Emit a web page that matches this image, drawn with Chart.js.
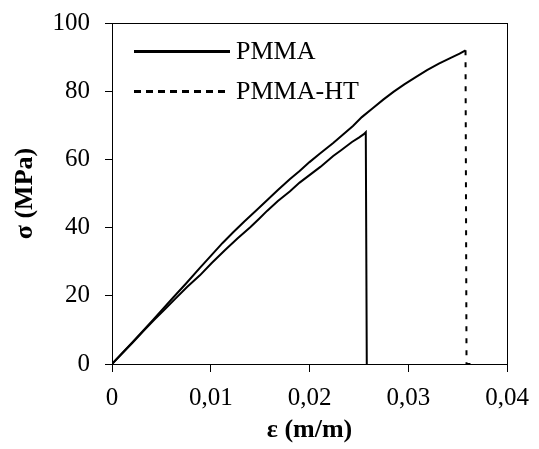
<!DOCTYPE html>
<html>
<head>
<meta charset="utf-8">
<script src="https://cdn.jsdelivr.net/npm/chart.js@4.4.1/dist/chart.umd.min.js"></script>
<style>
  html, body { margin: 0; padding: 0; background: #fff; }
  #wrap { width: 539px; height: 449px; }
</style>
</head>
<body>
<div id="wrap"><canvas id="myChart" width="539" height="449"></canvas></div>
<script>
// curva PMMA (deformazione, tensione)
const pmmaStrain = [0, 0.0010, 0.0021, 0.0032, 0.0043, 0.0054, 0.0064, 0.0076, 0.0089, 0.0101, 0.0114, 0.0127, 0.0140, 0.0149, 0.0157, 0.0168, 0.0180, 0.0190, 0.0200, 0.0211, 0.0224, 0.0232, 0.0243, 0.0250, 0.0255, 0.0257, 0.0258];
const pmmaStress = [0, 3.0, 6.3, 9.7, 13.0, 16.2, 19.1, 22.6, 26.0, 29.6, 33.3, 36.8, 40.1, 42.6, 44.9, 47.8, 50.6, 53.2, 55.4, 57.8, 61.0, 62.7, 65.1, 66.4, 67.4, 68.0, 0];

// curva PMMA-HT
const htStrain = [0, 0.0010, 0.0021, 0.0032, 0.0042, 0.0052, 0.0062, 0.0075, 0.0089, 0.0101, 0.0112, 0.0123, 0.0134, 0.0146, 0.0157, 0.0168, 0.0180, 0.0190, 0.0200, 0.0210, 0.0224, 0.0234, 0.0244, 0.0253, 0.0264, 0.0275, 0.0285, 0.0296, 0.0308, 0.0319, 0.0331, 0.0343, 0.0352, 0.0358, 0.0359, 0.0363];
const htStress = [0, 3.1, 6.5, 9.9, 13.1, 16.3, 19.5, 23.6, 28.2, 32.0, 35.5, 38.7, 41.8, 45.0, 48.0, 51.0, 54.2, 56.6, 59.2, 61.6, 64.8, 67.3, 69.8, 72.4, 75.0, 77.6, 79.8, 82.0, 84.2, 86.2, 88.1, 89.8, 91.0, 92.0, 0, 0];

const xTicks = [0, 0.01, 0.02, 0.03, 0.04];
const yTicks = [0, 20, 40, 60, 80, 100];

function toPoints(xs, ys) {
  return xs.map((x, i) => ({ x: x, y: ys[i] }));
}

const serif = "'Liberation Serif', 'DejaVu Serif', serif";
Chart.defaults.font.family = serif;
Chart.defaults.font.size = 25;
Chart.defaults.color = "#000";

// cornice attorno all'area del grafico
const frame = {
  id: "frame",
  afterDraw(chart) {
    const a = chart.chartArea;
    const ctx = chart.ctx;
    ctx.save();
    ctx.strokeStyle = "#000";
    ctx.lineWidth = 1;
    ctx.strokeRect(Math.round(a.left) + 0.5, Math.round(a.top) + 0.5, Math.round(a.right - a.left), Math.round(a.bottom - a.top));
    ctx.restore();
  }
};

// legenda dentro l'area, in alto a sinistra
const insideLegend = {
  id: "insideLegend",
  afterDraw(chart) {
    const a = chart.chartArea;
    const ctx = chart.ctx;
    ctx.save();
    chart.data.datasets.forEach((ds, i) => {
      const y = Math.round(a.top + 28 + i * 40) + 0.5;
      ctx.beginPath();
      ctx.setLineDash(ds.legendDash || []);
      ctx.lineWidth = 3;
      ctx.strokeStyle = ds.borderColor;
      ctx.moveTo(a.left + 22, y);
      ctx.lineTo(a.left + 118, y);
      ctx.stroke();
      ctx.setLineDash([]);
      ctx.fillStyle = "#000";
      ctx.font = "26px " + serif;
      ctx.textBaseline = "middle";
      ctx.textAlign = "left";
      ctx.fillText(ds.label, a.left + 124, y + 1);
    });
    ctx.restore();
  }
};

const myChart = new Chart(document.getElementById("myChart"), {
  type: "line",
  data: {
    datasets: [
      {
        label: "PMMA",
        data: toPoints(pmmaStrain, pmmaStress),
        borderColor: "#000",
        backgroundColor: "#000",
        borderWidth: 2,
        pointRadius: 0,
        tension: 0,
      },
      {
        label: "PMMA-HT",
        data: toPoints(htStrain, htStress),
        borderColor: "#000",
        backgroundColor: "#000",
        borderWidth: 2,
        legendDash: [7, 5],
        pointRadius: 0,
        tension: 0,
        segment: {
          // solo la caduta finale è tratteggiata
          borderDash: ctx => (ctx.p1.parsed.y < ctx.p0.parsed.y - 10 ? [5, 7] : []),
        },
      },
    ],
  },
  options: {
    responsive: false,
    animation: false,
    layout: { padding: { left: 0, right: 32, top: 23, bottom: 0 } },
    plugins: {
      tooltip: { enabled: false },
      legend: { display: false },
    },
    scales: {
      x: {
        type: "linear",
        min: 0,
        max: 0.04,
        afterFit(scale) {
          scale.height = 85;
          scale.paddingLeft = 0;
          scale.paddingRight = 0;
        },
        afterBuildTicks(scale) { scale.ticks = xTicks.map(v => ({ value: v })); },
        ticks: {
          padding: 11,
          color: "#000",
          font: { size: 25 },
          callback: v => (v === 0 ? "0" : v.toFixed(2).replace(".", ",")),
        },
        grid: { drawOnChartArea: false, drawTicks: true, tickLength: 8, color: "#000" },
        border: { display: true, color: "#000", width: 1 },
        title: {
          display: true,
          text: "ε (m/m)",
          color: "#000",
          font: { size: 26, weight: "bold" },
          padding: { top: 4, bottom: 3 },
        },
      },
      y: {
        type: "linear",
        min: 0,
        max: 100,
        afterFit(scale) {
          scale.width = 112;
          scale.paddingTop = 0;
          scale.paddingBottom = 0;
        },
        afterBuildTicks(scale) { scale.ticks = yTicks.map(v => ({ value: v })); },
        ticks: {
          padding: 15,
          color: "#000",
          font: { size: 25 },
        },
        grid: { drawOnChartArea: false, drawTicks: true, tickLength: 7, color: "#000" },
        border: { display: true, color: "#000", width: 1 },
        title: {
          display: true,
          text: "σ (MPa)",
          color: "#000",
          font: { size: 26, weight: "bold" },
          padding: { top: 10, bottom: 4 },
        },
      },
    },
  },
  plugins: [frame, insideLegend],
});
</script>
</body>
</html>
